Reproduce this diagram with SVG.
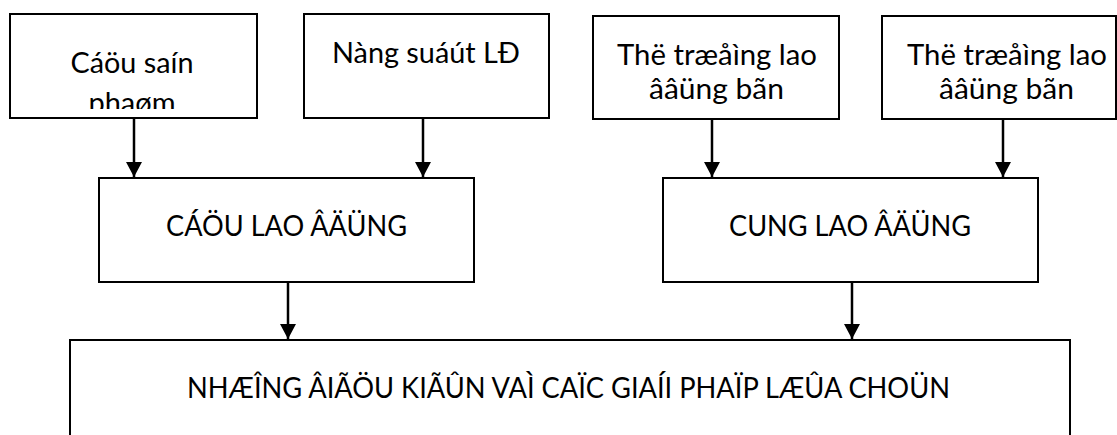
<svg xmlns="http://www.w3.org/2000/svg" width="1117" height="435" viewBox="0 0 1117 435">
<style>
.box{fill:#fff;stroke:#000;stroke-width:2}
.t{font-family:Lato,"Open Sans","Liberation Sans",sans-serif;font-size:29px;fill:#000;text-anchor:middle}
.c{stroke:#000;stroke-width:2.5;fill:none;marker-end:url(#ah)}
</style>
<defs>
<marker id="ah" viewBox="0 0 15 16" refX="15" refY="8" markerWidth="15" markerHeight="16" markerUnits="userSpaceOnUse" orient="auto">
<path d="M0,0 L15,8 L0,16 Z" fill="#000"/>
</marker>
<clipPath id="clip1"><rect x="11" y="15" width="245" height="94"/></clipPath>
</defs>
<rect width="1117" height="435" fill="#fff"/>
<g id="n1">
<rect class="box" x="10" y="14" width="247" height="104"/>
<g clip-path="url(#clip1)">
<text class="t" x="132" y="73" textLength="123" lengthAdjust="spacingAndGlyphs">Cáöu saín</text>
<text class="t" x="132" y="113">phaøm</text>
</g>
</g>
<g id="n2">
<rect class="box" x="304" y="14" width="245" height="104"/>
<text class="t" x="426" y="63" textLength="188" lengthAdjust="spacingAndGlyphs">Nàng suáút LĐ</text>
</g>
<g id="n3">
<rect class="box" x="593" y="16" width="246" height="103"/>
<text class="t" x="717" y="65" textLength="200" lengthAdjust="spacingAndGlyphs">Thë træåìng lao</text>
<text class="t" x="716.5" y="99" textLength="135" lengthAdjust="spacingAndGlyphs">ââüng bãn</text>
</g>
<g id="n4">
<rect class="box" x="882" y="16" width="234" height="103"/>
<text class="t" x="1007" y="65" textLength="200" lengthAdjust="spacingAndGlyphs">Thë træåìng lao</text>
<text class="t" x="1006.5" y="99" textLength="135" lengthAdjust="spacingAndGlyphs">ââüng bãn</text>
</g>
<g id="n5">
<rect class="box" x="99" y="178" width="375" height="104"/>
<text class="t" x="286.5" y="236" textLength="241" lengthAdjust="spacingAndGlyphs">CÁÖU LAO ÂÄÜNG</text>
</g>
<g id="n6">
<rect class="box" x="663" y="178" width="375" height="104"/>
<text class="t" x="850" y="236" textLength="242" lengthAdjust="spacingAndGlyphs">CUNG LAO ÂÄÜNG</text>
</g>
<g id="n7">
<rect class="box" x="70" y="340" width="1000" height="120"/>
<text class="t" x="568.5" y="398" textLength="763" lengthAdjust="spacingAndGlyphs">NHÆÎNG ÂIÃÖU KIÃÛN VAÌ CAÏC GIAÍI PHAÏP LÆÛA CHOÜN</text>
</g>
<g id="connectors">
<line class="c" x1="134" y1="119" x2="134" y2="177"/>
<line class="c" x1="423" y1="119" x2="423" y2="177"/>
<line class="c" x1="712" y1="120" x2="712" y2="177"/>
<line class="c" x1="1003" y1="120" x2="1003" y2="177"/>
<line class="c" x1="288" y1="283" x2="288" y2="339"/>
<line class="c" x1="852" y1="283" x2="852" y2="339"/>
</g>
</svg>
